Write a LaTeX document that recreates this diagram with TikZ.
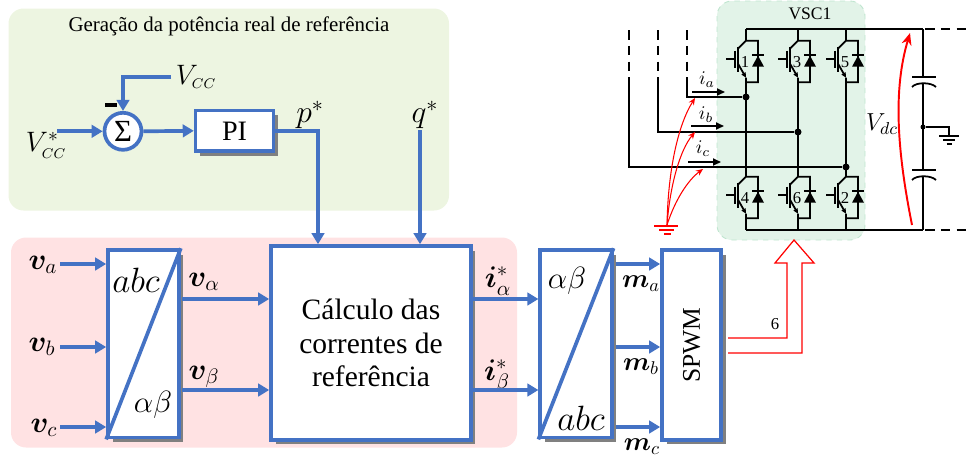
\documentclass[tikz,border=0pt]{standalone}
\usepackage{fix-cm}
\usepackage{amsmath}
\usepackage{bm}
\usepackage{xcolor}
\usepackage{fontspec}
\setmainfont{Liberation Serif}
\usepackage{tikz}
\usetikzlibrary{calc, arrows.meta, shadows}
\definecolor{ctrlBlue}{HTML}{4472C4}
\definecolor{shadowGray}{HTML}{808080}
\definecolor{genGreen}{HTML}{EDF5E1}
\definecolor{calcPink}{HTML}{FFE2E3}
\definecolor{vscFill}{HTML}{E2F3E8}
\definecolor{vscEdge}{HTML}{BFE5CF}
\tikzset{
    zone/.style={draw=none, rounded corners=0.3cm},
    block/.style={draw=ctrlBlue, fill=white, line width=2.1pt, inner sep=0pt,
        drop shadow={shadow xshift=0.09cm, shadow yshift=-0.09cm, fill=shadowGray, opacity=1}},
    sigpath/.style={ctrlBlue, line width=2.1pt},
    sigarrow/.style={sigpath, -{Triangle[length=0.22cm,width=0.25cm]}},
    lbl/.style={font=\fontsize{17}{20}\selectfont, inner sep=0pt},
    ctext/.style={font=\fontsize{20}{22}\selectfont, inner sep=0pt},
    gtext/.style={font=\fontsize{17.5}{20}\selectfont, inner sep=0pt},
    wire/.style={black, line width=1pt},
    dashwire/.style={wire, dash pattern=on 5.5pt off 3.5pt},
    jdot/.style={circle, fill=black, inner sep=0pt, minimum size=0.14cm},
    curarrow/.style={wire, -{Triangle[length=0.16cm,width=0.14cm]}},
    redwire/.style={red, line width=0.6pt, -{Stealth[length=0.14cm,width=0.12cm]}},
}

\begin{document}
\begin{tikzpicture}[x=0.02cm, y=-0.02cm]
    \useasboundingbox (0,0) rectangle (966,457);
    % background zones
    \fill[zone, genGreen] (8.5,8.5) rectangle (449,210.5);
    \fill[zone, calcPink] (11,237.5) rectangle (517,447.5);
    \fill[vscFill, rounded corners=0.3cm] (717,1) rectangle (865,240);
    \draw[vscEdge, dashed, line width=0.5pt, rounded corners=0.3cm] (717,1) rectangle (865,240);
    \node[font=\fontsize{11.9}{14}\selectfont] (title) at (229,26) {Geração da potência real de referência};

    % control blocks
    \node[block, minimum width=1.56cm, minimum height=0.81cm, font=\fontsize{16}{18}\selectfont] (pi) at (234.6,130.8) {PI};
    \node[circle, draw=ctrlBlue, fill=white, line width=2.1pt, inner sep=0pt, minimum size=0.74cm, font=\fontsize{17.5}{18}\selectfont] (sum) at (123,131.3) {Σ};
    \node[fill=black, inner sep=0pt, minimum width=0.23cm, minimum height=0.07cm] (minus) at (111,105) {};
    \node[block, minimum width=1.42cm, minimum height=3.75cm] (abc) at (143.5,343.8) {};
    \node[block, minimum width=4cm, minimum height=3.88cm, align=center, font=\fontsize{16.8}{19}\selectfont] (calc) at (371,343) {Cálculo das\\correntes de\\referência};
    \node[block, minimum width=1.43cm, minimum height=3.75cm] (ab) at (576,343.8) {};
    \node[block, minimum width=1.18cm, minimum height=3.8cm] (spwm) at (691.5,345) {};
    \node[rotate=90, font=\fontsize{14.5}{16}\selectfont] (spwmtext) at (spwm.center) {SPWM};
    \draw[sigpath] (abc.south west) -- (abc.north east);
    \draw[sigpath] (ab.south west) -- (ab.north east);
    \node[ctext] (abcA) at (136,280) {\(abc\)};
    \node[gtext] (abA) at (153,405) {\(\alpha\beta\)};
    \node[gtext] (abB) at (567,281) {\(\alpha\beta\)};
    \node[ctext] (abcB) at (581,418) {\(abc\)};

    % labels
    \node[lbl, font=\fontsize{16}{18}\selectfont] (vcc) at (196,77) {\(V_{\scriptscriptstyle CC}\)};
    \node[lbl, font=\fontsize{16}{18}\selectfont] (vccref) at (46,145) {\(V_{\scriptscriptstyle CC}^{*}\)};
    \node[lbl, font=\fontsize{18}{20}\selectfont] (pref) at (310,115) {\(p^{*}\)};
    \node[lbl, font=\fontsize{18}{20}\selectfont] (qref) at (425,115) {\(q^{*}\)};
    \node[lbl] (va) at (43,265) {\(\bm{v}_a\)};
    \node[lbl] (vb) at (42,347) {\(\bm{v}_b\)};
    \node[lbl] (vc) at (44,428) {\(\bm{v}_c\)};
    \node[lbl] (valpha) at (204,282) {\(\bm{v}_\alpha\)};
    \node[lbl] (vbeta) at (204,377) {\(\bm{v}_\beta\)};
    \node[lbl] (ialpha) at (498,281) {\(\bm{i}_\alpha^{*}\)};
    \node[lbl] (ibeta) at (497,376) {\(\bm{i}_\beta^{*}\)};
    \node[lbl, font=\fontsize{15}{18}\selectfont] (ma) at (641,284) {\(\bm{m}_a\)};
    \node[lbl, font=\fontsize{15}{18}\selectfont] (mb) at (641,367) {\(\bm{m}_b\)};
    \node[lbl, font=\fontsize{15}{18}\selectfont] (mc) at (642,447) {\(\bm{m}_c\)};

    % free ends of the signal lines
    \coordinate (vccend) at (171,77);
    \coordinate (vccrefend) at (57,131.3);
    \coordinate (pcorner) at (318,130.8);
    \coordinate (qstart) at (420,130);
    \draw[sigarrow] (vccend) -| (sum.north);
    \draw[sigarrow] (vccrefend) -- (sum.west);
    \draw[sigarrow] (sum.east) -- (pi.west);
    \draw[sigarrow] (pi.east) -- (pcorner) -- (pcorner |- calc.north);
    \draw[sigarrow] (qstart) -- (qstart |- calc.north);
    \foreach \yin/\nme in {264/a,347/b,427/c} {
        \coordinate (in\nme) at (60,\yin);
        \coordinate (out\nme) at (616,\yin);
        \draw[sigarrow] (in\nme) -- (abc.west |- in\nme);
        \draw[sigarrow] (out\nme) -- (spwm.west |- out\nme);
    }
    \foreach \yin/\nme in {299/p,390/q} {
        \coordinate (mid\nme) at (182,\yin);
        \coordinate (cur\nme) at (473,\yin);
        \draw[sigarrow] (mid\nme) -- (calc.west |- mid\nme);
        \draw[sigarrow] (cur\nme) -- (ab.west |- cur\nme);
    }

    % gate signal arrow
    \draw[red, line width=0.7pt] (728,338) -- (787,338) -- (787,263) -- (775,263) -- (794,240) -- (814,263) -- (802,263) -- (802,353) -- (728,353);
    \node[font=\fontsize{9.5}{11}\selectfont, inner sep=0pt] (six) at (775,324) {6};

    % converter
    \node[font=\fontsize{10}{12}\selectfont, inner sep=0pt] (vsc) at (810,14) {VSC1};
    \draw[wire] (746,29) -- (923,29);
    \draw[wire] (746,230) -- (923,230);
    \draw[dashwire] (925,29) -- (966,29);
    \draw[dashwire] (925,230) -- (966,230);
    \foreach \lx in {746,798,846} {
        \draw[wire] (\lx,29) -- (\lx,40.7);
        \draw[wire] (\lx,82.2) -- (\lx,176.7);
        \draw[wire] (\lx,218.2) -- (\lx,230);
    }
    \foreach \lx/\ly/\lnum in {746/40.7/1,798/40.7/3,846/40.7/5,746/176.7/4,798/176.7/6,846/176.7/2} {
        \begin{scope}[shift={(\lx,\ly)}]
            \draw[wire] (-20,18.5) -- (-11,18.5);
            \draw[wire] (-11,10) -- (-11,27);
            \draw[wire] (-8,6) -- (-8,31);
            \draw[wire] (-8,8) -- (0,0) -- (12,0) -- (12,41.5) -- (0,41.5) -- (0,37);
            \draw[wire, -{Triangle[length=0.1cm,width=0.09cm]}] (-8,23) -- (0,37);
            \fill[black] (6,26) -- (18,26) -- (12,15) -- cycle;
            \draw[wire] (6,14.5) -- (18,14.5);
            \node[font=\fontsize{9.5}{11}\selectfont, inner sep=0pt] (sw\lnum) at (-1,21) {\lnum};
        \end{scope}
    }

    % phase wires
    \node[jdot] (ja) at (746,97) {};
    \node[jdot] (jb) at (798,132) {};
    \node[jdot] (jc) at (846,167) {};
    \foreach \px/\nme/\tgt in {687/a/ja,658/b/jb,629/c/jc} {
        \coordinate (top\nme) at (\px,30);
        \coordinate (bend\nme) at (\px,85);
        \draw[dashwire] (top\nme) -- (bend\nme);
        \draw[wire] (bend\nme) |- (\tgt);
    }
    \foreach \ax/\ay/\nme in {692/92/a,691/126/b,688/162/c} {
        \coordinate (ia\nme) at (\ax,\ay);
        \coordinate (ib\nme) at ($(\ax,\ay)+(33,0)$);
        \draw[curarrow] (ia\nme) -- (ib\nme);
    }
    \node[lbl, font=\fontsize{11}{13}\selectfont] (ila) at (707,80) {\(i_a\)};
    \node[lbl, font=\fontsize{11}{13}\selectfont] (ilb) at (706,115) {\(i_b\)};
    \node[lbl, font=\fontsize{11}{13}\selectfont] (ilc) at (703,149) {\(i_c\)};

    % reference ground and probes
    \coordinate (gnd) at (667,225);
    \draw[red, line width=0.8pt] (654,226) -- (678,226);
    \draw[red, line width=0.8pt] (659,230) -- (674,230);
    \draw[red, line width=0.8pt] (664,234) -- (671,234);
    \draw[redwire] (gnd) .. controls (668,170) and (678,125) .. (695,98);
    \draw[redwire] (gnd) .. controls (670,185) and (680,150) .. (695,132);
    \draw[redwire] (gnd) .. controls (675,200) and (688,180) .. (703,169);

    % dc link
    \coordinate (cap1) at (923,77);
    \coordinate (cap2) at (923,170);
    \draw[wire] (923,29) -- (cap1);
    \draw[wire] (912,77) -- (936,77);
    \draw[wire] (912,87) .. controls (916,82) and (931,82) .. (936,87);
    \draw[wire] (923,84) -- (cap2);
    \draw[wire] (912,170) -- (936,170);
    \draw[wire] (912,180) .. controls (916,175) and (931,175) .. (936,180);
    \draw[wire] (923,177) -- (923,230);
    \node[jdot, minimum size=0.1cm] (mid) at (923,127) {};
    \coordinate (gndb) at (949,136);
    \draw[wire] (mid) -| (gndb);
    \draw[wire] (939,136) -- (959,136);
    \draw[wire] (943,140) -- (955,140);
    \draw[wire] (946.5,144) -- (951.5,144);
    \coordinate (vdcstart) at (912,225);
    \coordinate (vdcend) at (910,33);
    \draw[red, line width=1.1pt, -{Stealth[length=0.24cm,width=0.2cm]}] (vdcstart) .. controls (897,150) and (893,90) .. (vdcend);
    \node[lbl, font=\fontsize{14}{16}\selectfont] (vdc) at (882,124) {\(V_{dc}\)};
\end{tikzpicture}
\end{document}
